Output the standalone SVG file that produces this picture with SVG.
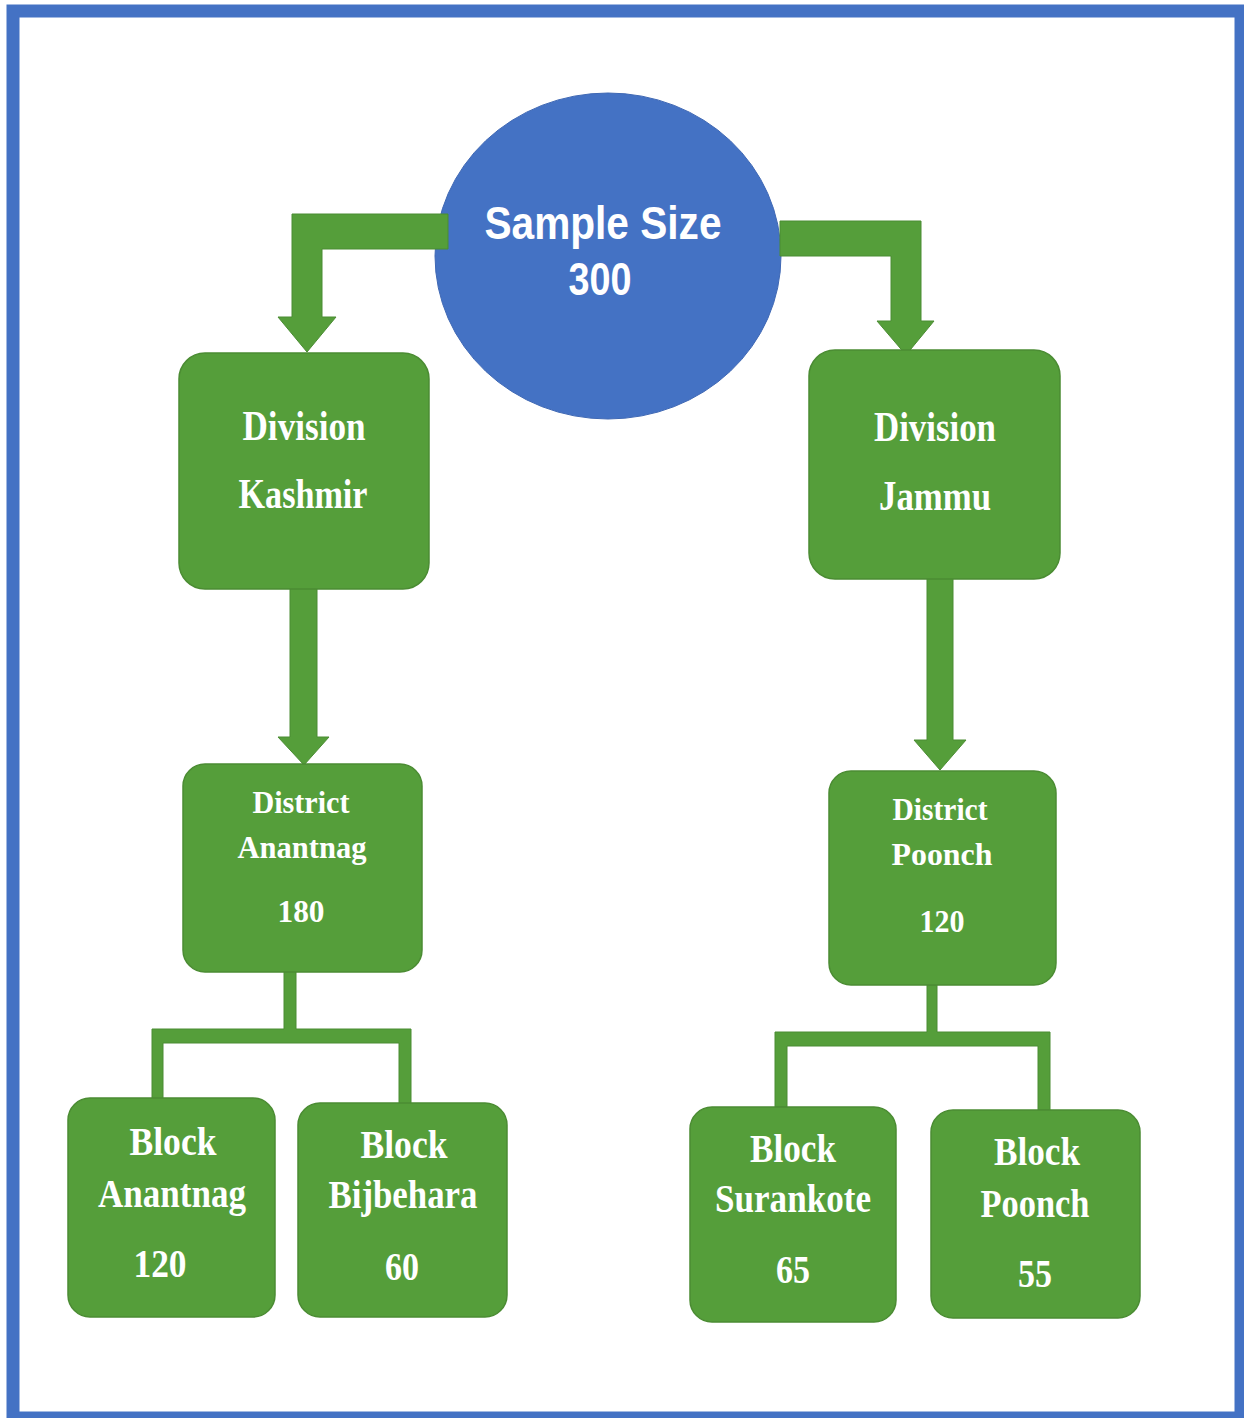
<svg xmlns="http://www.w3.org/2000/svg" width="1244" height="1418" viewBox="0 0 1244 1418">
<style>
.bg{fill:#ffffff}
.frame{fill:none;stroke:#4472C4;stroke-width:13}
.box{fill:#559E3A;stroke:#4B8C33;stroke-width:1.5}
.conn{fill:#559E3A;stroke:#4B8C33;stroke-width:1}
.circ{fill:#4472C4;stroke:#3F68B4;stroke-width:1}
.t{font-family:"Liberation Serif","Times New Roman",serif;font-weight:bold;fill:#ffffff;text-anchor:middle}
.ts{font-family:"Liberation Sans",Arial,sans-serif;font-weight:bold;fill:#ffffff;text-anchor:middle}
</style>
<rect class="bg" x="0" y="0" width="1244" height="1418"/>
<rect class="frame" x="13" y="11" width="1228" height="1407"/>

<g id="root">
<ellipse class="circ" cx="608" cy="256" rx="173" ry="163"/>
<text class="ts" x="603" y="239" font-size="46" textLength="237" lengthAdjust="spacingAndGlyphs">Sample Size</text>
<text class="ts" x="600" y="295" font-size="46" textLength="63" lengthAdjust="spacingAndGlyphs">300</text>
</g>

<g id="connectors">
<path class="conn" d="M448,214 H292 V317 H278 L307,352 L336,317 H322 V249 H448 Z"/>
<path class="conn" d="M780,221 H921 V321 H934 L906,355 L877,321 H891 V256 H780 Z"/>
<path class="conn" d="M290,587 H317 V737 H329 L304,765 L278,737 H290 Z"/>
<path class="conn" d="M927,578 H953 V740 H966 L940,770 L914,740 H927 Z"/>
<path class="conn" d="M284,971 H296 V1029 H411 V1105 H399 V1043 H163 V1100 H152 V1029 H284 Z"/>
<path class="conn" d="M927,985 H937 V1032 H1050 V1110 H1038 V1046 H787 V1107 H775 V1032 H927 Z"/>
</g>

<g id="division-kashmir">
<rect class="box" x="179" y="353" width="250" height="236" rx="26"/>
<text class="t" x="304" y="440" font-size="42" textLength="123" lengthAdjust="spacingAndGlyphs">Division</text>
<text class="t" x="303" y="508" font-size="42" textLength="129" lengthAdjust="spacingAndGlyphs">Kashmir</text>
</g>

<g id="division-jammu">
<rect class="box" x="809" y="350" width="251" height="229" rx="26"/>
<text class="t" x="935" y="441" font-size="42" textLength="122" lengthAdjust="spacingAndGlyphs">Division</text>
<text class="t" x="935" y="510" font-size="42" textLength="112" lengthAdjust="spacingAndGlyphs">Jammu</text>
</g>

<g id="district-anantnag">
<rect class="box" x="183" y="764" width="239" height="208" rx="22"/>
<text class="t" x="301" y="813" font-size="32" textLength="97" lengthAdjust="spacingAndGlyphs">District</text>
<text class="t" x="302" y="858" font-size="32" textLength="129" lengthAdjust="spacingAndGlyphs">Anantnag</text>
<text class="t" x="301" y="922" font-size="32" textLength="47" lengthAdjust="spacingAndGlyphs">180</text>
</g>

<g id="district-poonch">
<rect class="box" x="829" y="771" width="227" height="214" rx="22"/>
<text class="t" x="940" y="820" font-size="32" textLength="95" lengthAdjust="spacingAndGlyphs">District</text>
<text class="t" x="942" y="865" font-size="32" textLength="101" lengthAdjust="spacingAndGlyphs">Poonch</text>
<text class="t" x="942" y="932" font-size="32" textLength="45" lengthAdjust="spacingAndGlyphs">120</text>
</g>

<g id="block-anantnag">
<rect class="box" x="68" y="1098" width="207" height="219" rx="22"/>
<text class="t" x="173" y="1155" font-size="40" textLength="87" lengthAdjust="spacingAndGlyphs">Block</text>
<text class="t" x="172" y="1207" font-size="40" textLength="148" lengthAdjust="spacingAndGlyphs">Anantnag</text>
<text class="t" x="160" y="1277" font-size="40" textLength="53" lengthAdjust="spacingAndGlyphs">120</text>
</g>

<g id="block-bijbehara">
<rect class="box" x="298" y="1103" width="209" height="214" rx="22"/>
<text class="t" x="404" y="1158" font-size="40" textLength="87" lengthAdjust="spacingAndGlyphs">Block</text>
<text class="t" x="403" y="1208" font-size="40" textLength="149" lengthAdjust="spacingAndGlyphs">Bijbehara</text>
<text class="t" x="402" y="1280" font-size="40" textLength="34" lengthAdjust="spacingAndGlyphs">60</text>
</g>

<g id="block-surankote">
<rect class="box" x="690" y="1107" width="206" height="215" rx="22"/>
<text class="t" x="793" y="1162" font-size="40" textLength="86" lengthAdjust="spacingAndGlyphs">Block</text>
<text class="t" x="793" y="1212" font-size="40" textLength="156" lengthAdjust="spacingAndGlyphs">Surankote</text>
<text class="t" x="793" y="1283" font-size="40" textLength="34" lengthAdjust="spacingAndGlyphs">65</text>
</g>

<g id="block-poonch">
<rect class="box" x="931" y="1110" width="209" height="208" rx="22"/>
<text class="t" x="1037" y="1165" font-size="40" textLength="86" lengthAdjust="spacingAndGlyphs">Block</text>
<text class="t" x="1035" y="1217" font-size="40" textLength="109" lengthAdjust="spacingAndGlyphs">Poonch</text>
<text class="t" x="1035" y="1287" font-size="40" textLength="34" lengthAdjust="spacingAndGlyphs">55</text>
</g>
</svg>
